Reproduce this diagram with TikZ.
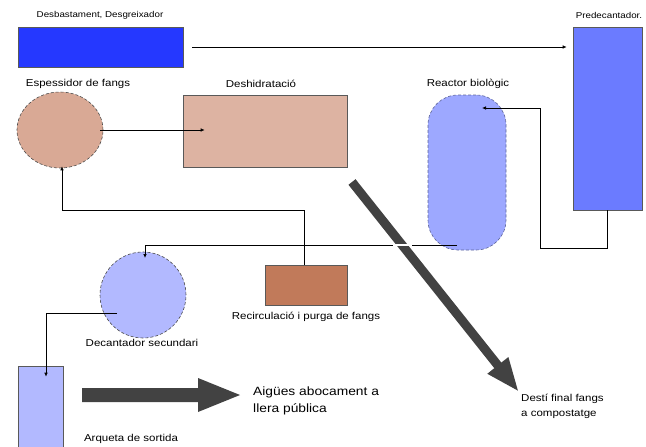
\documentclass[tikz,border=0pt]{standalone}
\usepackage{fontspec}
\setmainfont{Liberation Sans}[FakeStretch=1.15]
\usetikzlibrary{shapes.geometric,arrows.meta}
\definecolor{cdesb}{HTML}{2538FF}
\definecolor{cpred}{HTML}{6B7BFF}
\definecolor{cesp}{HTML}{D9A995}
\definecolor{cdesh}{HTML}{DDB3A2}
\definecolor{creac}{HTML}{9DA8FF}
\definecolor{crec}{HTML}{C17A5A}
\definecolor{cdec}{HTML}{B2B9FF}
\definecolor{carrow}{HTML}{424242}
\begin{document}
\begin{tikzpicture}[x=1pt,y=-1pt,
  box/.style={draw=gray!70!black, line width=0.6pt, inner sep=0pt},
  dashedshape/.style={draw=gray!60!black, densely dashed, line width=0.6pt, inner sep=0pt},
  lbl/.style={font=\fontsize{10}{15}\selectfont, inner sep=0pt},
  smalllbl/.style={font=\fontsize{8.5}{10}\selectfont, inner sep=0pt},
  biglbl/.style={font=\fontsize{12}{17}\selectfont, inner sep=0pt, align=left, anchor=west},
  conn/.style={draw=black, line width=0.7pt, -{Latex[length=4pt,width=3.5pt]}},
  bigarrow/.style={fill=carrow, draw=none}]
\useasboundingbox (0,0) rectangle (646,447);
\fill[white] (0,0) rectangle (646,447);

% shapes
\node[box, fill=cdesb, minimum width=165pt, minimum height=40pt] (desb) at (100.5,47) {};
\node[box, fill=cpred, minimum width=69pt, minimum height=183pt] (pred) at (607.5,118.5) {};
\node[ellipse, dashedshape, fill=cesp, minimum width=86pt, minimum height=76pt] (esp) at (60,130) {};
\node[box, fill=cdesh, minimum width=164pt, minimum height=72pt] (desh) at (265,131) {};
\node[dashedshape, draw=creac!60!black, fill=creac, rounded corners=30pt, minimum width=78pt, minimum height=155pt] (reac) at (467,172.5) {};
\node[box, fill=crec, minimum width=82pt, minimum height=40pt] (rec) at (306,285) {};
\node[circle, dashedshape, fill=cdec, minimum size=86pt] (dec) at (143,295) {};
\node[box, fill=cdec, minimum width=45pt, minimum height=85pt] (arq) at (40.5,408.5) {};

% labels
\node[smalllbl] (ldesb) at (100,15) {Desbastament, Desgreixador};
\node[smalllbl] (lpred) at (609,15) {Predecantador.};
\node[lbl] (lesp) at (78,84) {Espessidor de fangs};
\node[lbl] (ldesh) at (261,84) {Deshidratació};
\node[lbl] (lreac) at (468,84) {Reactor biològic};
\node[lbl] (lrec) at (306,317) {Recirculació i purga de fangs};
\node[lbl] (ldec) at (142,343) {Decantador secundari};
\node[lbl] (larq) at (131,439) {Arqueta de sortida};
\node[biglbl] (laig) at (253,401) {Aigües abocament a\\llera pública};
\node[lbl, align=left, anchor=west] (ldest) at (521,406) {Destí final fangs\\a compostatge};

% coordinates
\coordinate (r1) at (540,248);
\coordinate (r2) at (540,108);
\coordinate (r3) at (482,108);
\coordinate (s1) at (457,245);
\coordinate (s2) at (145,245);
\coordinate (s3) at (145,258);
\coordinate (t1) at (62,210);
\coordinate (d1) at (117,313);
\coordinate (gstart) at (352,182);
\coordinate (gend) at (519,392);
\coordinate (w1) at (393,245);
\coordinate (w2) at (412,245);

% connectors
\draw[conn] ([xshift=9pt]desb.east) -- ([xshift=-6pt]pred.west |- desb.east);
\draw[conn] (pred.south) |- (r1) -- (r2) -- (r3);
\draw[conn] (s1) -- (s2) -- (s3);
\draw[conn] ([xshift=-2pt]rec.north) |- (t1) -- ([xshift=2pt,yshift=2pt]esp.south);
\draw[conn] ([xshift=-3pt]esp.east) -- ([xshift=22pt]desh.west |- esp.east);
\draw[conn] (d1) -| ([xshift=5.5pt,yshift=-11pt]arq.north);

% big arrows
\draw[carrow, line width=9pt, -{Triangle[length=34pt,width=24pt]}] (gstart) -- (gend);
\draw[white, line width=2.2pt] (w1) -- (w2);
\fill[bigarrow] (82,388) -- (198,388) -- (198,378) -- (240,395) -- (198,412) -- (198,402) -- (82,402) -- cycle;
\end{tikzpicture}
\end{document}
